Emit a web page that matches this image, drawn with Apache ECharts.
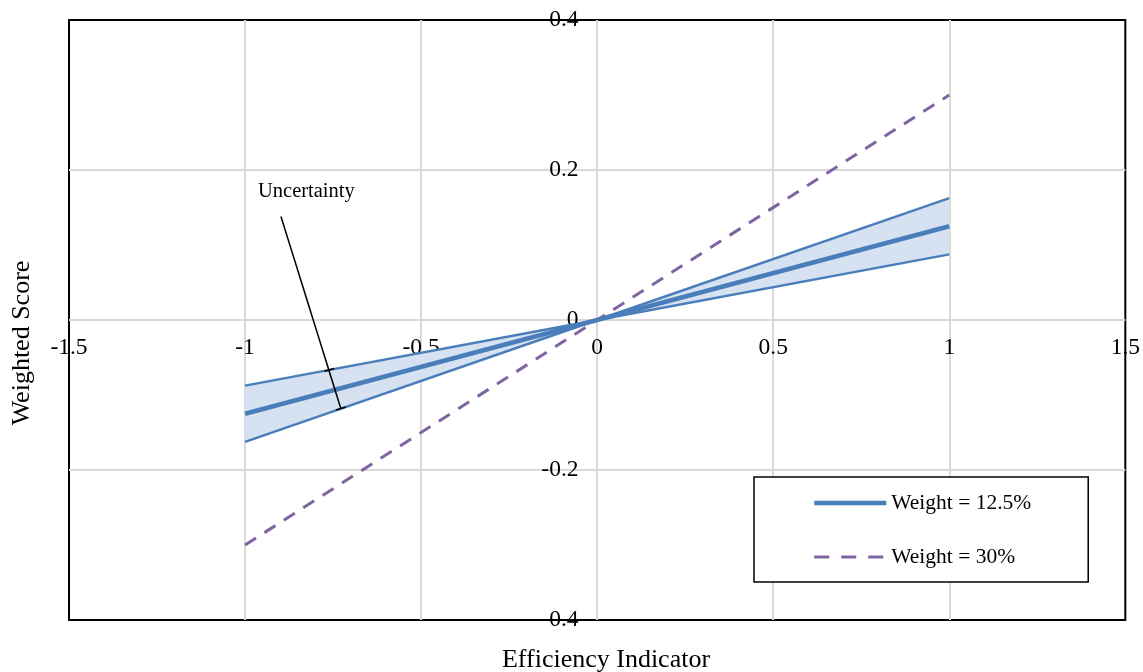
<!DOCTYPE html>
<html>
<head>
<meta charset="utf-8">
<script src="https://cdn.jsdelivr.net/npm/echarts@6/dist/echarts.min.js"></script>
<style>html,body{margin:0;padding:0;background:#fff}#c{width:1143px;height:672px}</style>
</head>
<body>
<div id="c"></div>
<script>
// ---- data ----
var xValues = [-1, 0, 1];
var weight125 = [-0.125, 0, 0.125];
var bandHigh = [-0.0875, 0, 0.1625];
var bandLow = [-0.1625, 0, 0.0875];
var weight30 = [-0.3, 0, 0.3];
var xTicks = { min: -1.5, max: 1.5, interval: 0.5 };
var yTicks = { min: -0.4, max: 0.4, interval: 0.2 };
// annotation leader line (data coords) and its end ticks
var annoLine = [[-0.898, 0.138], [-0.728, -0.118]];
var annoTick1 = [[-0.775, -0.0686], [-0.747, -0.0646]];
var annoTick2 = [[-0.742, -0.120], [-0.714, -0.116]];

function pairs(xs, ys) { return xs.map(function (x, i) { return [x, ys[i]]; }); }

var FONT = 'Liberation Serif';
var blue = '#4A7EBB';
var purple = '#8064A2';

var GRID = { left: 69, right: 15, top: 20, bottom: 52 };
var W = 1143, H = 672;
var plotW = W - GRID.left - GRID.right;
var plotH = H - GRID.top - GRID.bottom;
// shift axes so they cross at zero (axes placed through origin)
var xAxisOffset = -plotH * (0 - yTicks.min) / (yTicks.max - yTicks.min);
var yAxisOffset = -plotW * (0 - xTicks.min) / (xTicks.max - xTicks.min);

var chart = echarts.init(document.getElementById('c'));
chart.setOption({
  animation: false,
  backgroundColor: '#fff',
  textStyle: { fontFamily: FONT, color: '#000' },
  grid: {
    left: GRID.left, right: GRID.right, top: GRID.top, bottom: GRID.bottom,
    show: true, borderColor: '#000', borderWidth: 2, backgroundColor: 'transparent', z: 0
  },
  xAxis: {
    type: 'value', min: xTicks.min, max: xTicks.max, interval: xTicks.interval,
    position: 'bottom', offset: xAxisOffset,
    axisLine: { show: false, onZero: false },
    axisTick: { show: false },
    axisLabel: { fontFamily: FONT, fontSize: 23.5, color: '#000', margin: 16, showMinLabel: true, showMaxLabel: true },
    splitLine: { show: true, showMinLine: false, showMaxLine: false, lineStyle: { color: '#d9d9d9', width: 2 } }
  },
  yAxis: {
    type: 'value', min: yTicks.min, max: yTicks.max, interval: yTicks.interval,
    position: 'left', offset: yAxisOffset,
    axisLine: { show: false, onZero: false },
    axisTick: { show: false },
    axisLabel: { fontFamily: FONT, fontSize: 23.5, color: '#000', margin: 20, showMinLabel: true, showMaxLabel: true },
    splitLine: { show: true, showMinLine: false, showMaxLine: false, lineStyle: { color: '#d9d9d9', width: 2 } }
  },
  legend: {
    data: [
      { name: 'Weight = 12.5%', lineStyle: { width: 4.5, color: blue } },
      { name: 'Weight = 30%', lineStyle: { width: 3, color: purple, type: [15, 12] } }
    ],
    orient: 'vertical',
    left: 754, top: 477,
    padding: [15, 57, 14, 58],
    itemWidth: 72, itemHeight: 14, itemGap: 32,
    itemStyle: { opacity: 0 },
    backgroundColor: '#fff',
    borderColor: '#000', borderWidth: 1.5,
    textStyle: { fontFamily: FONT, fontSize: 21.5, color: '#000' }
  },
  graphic: [
    { type: 'text', x: 258, y: 192, z: 10, style: { text: 'Uncertainty', font: '20.5px "Liberation Serif"', fill: '#000', verticalAlign: 'middle' } },
    { type: 'text', x: 22, y: 343, rotation: Math.PI / 2, style: { text: 'Weighted Score', font: '26px "Liberation Serif"', fill: '#000', align: 'center', verticalAlign: 'middle' } },
    { type: 'text', x: 606, y: 660, style: { text: 'Efficiency Indicator', font: '26px "Liberation Serif"', fill: '#000', align: 'center', verticalAlign: 'middle' } }
  ],
  series: [
    {
      name: 'band', type: 'custom', silent: true, z: 1,
      data: [[0, 0]],
      renderItem: function (params, api) {
        var pts = [];
        for (var i = 0; i < xValues.length; i++) pts.push(api.coord([xValues[i], bandHigh[i]]));
        for (var j = xValues.length - 1; j >= 0; j--) pts.push(api.coord([xValues[j], bandLow[j]]));
        return { type: 'polygon', shape: { points: pts }, style: { fill: '#D6E1F1' } };
      }
    },
    {
      name: 'Weight = 30%', type: 'line', data: pairs(xValues, weight30), symbol: 'none',
      lineStyle: { color: purple, width: 3, type: [13, 10] }, itemStyle: { color: purple }, z: 2
    },
    {
      name: 'high', type: 'line', data: pairs(xValues, bandHigh), symbol: 'none',
      lineStyle: { color: blue, width: 2.5 }, z: 3
    },
    {
      name: 'low', type: 'line', data: pairs(xValues, bandLow), symbol: 'none',
      lineStyle: { color: blue, width: 2.5 }, z: 3
    },
    {
      name: 'Weight = 12.5%', type: 'line', data: pairs(xValues, weight125), symbol: 'none',
      lineStyle: { color: blue, width: 4.5 }, itemStyle: { color: blue }, z: 4
    },
    {
      name: 'anno', type: 'line', data: annoLine, symbol: 'none', silent: true,
      lineStyle: { color: '#000', width: 1.5 }, z: 5
    },
    {
      name: 'annoT1', type: 'line', data: annoTick1, symbol: 'none', silent: true,
      lineStyle: { color: '#000', width: 1.5 }, z: 5
    },
    {
      name: 'annoT2', type: 'line', data: annoTick2, symbol: 'none', silent: true,
      lineStyle: { color: '#000', width: 1.5 }, z: 5
    }
  ]
});
</script>
</body>
</html>
